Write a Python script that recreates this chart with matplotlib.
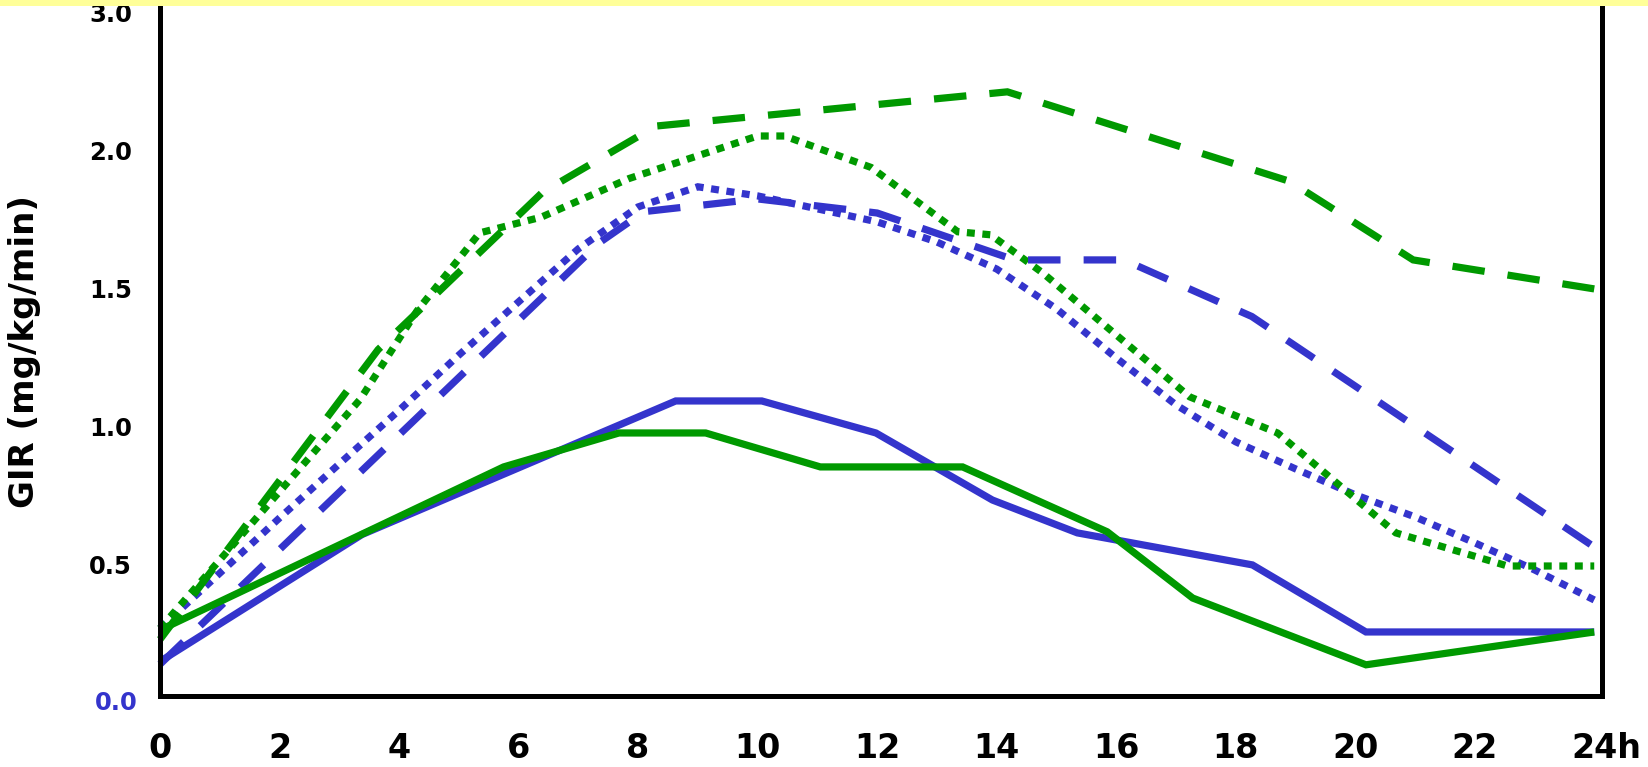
import matplotlib
matplotlib.use("Agg")
import matplotlib.pyplot as plt
from matplotlib.patches import Rectangle
import matplotlib.transforms as mtransforms

plt.rcParams['font.family'] = ['DejaVu Sans']

# ---------------- data (hours, GIR mg/kg/min) ----------------
blue_solid_x = [0, 3.38, 8.63, 10.07, 11.98, 13.93, 15.35, 18.28, 20.18, 24]
blue_solid_y = [0.15, 0.61, 1.094, 1.094, 0.978, 0.735, 0.616, 0.50, 0.257, 0.257]

green_solid_x = [0, 5.75, 7.68, 9.13, 11.05, 13.43, 15.85, 17.28, 20.18, 24]
green_solid_y = [0.264, 0.855, 0.978, 0.978, 0.855, 0.855, 0.62, 0.38, 0.138, 0.257]

blue_dashed_x = [0, 7.35, 8.1, 10.0, 12.0, 14.3, 16.13, 18.27, 24]
blue_dashed_y = [0.14, 1.667, 1.78, 1.826, 1.775, 1.605, 1.605, 1.40, 0.565]

green_dashed_x = [0, 3.65, 6.4, 8.3, 14.18, 18.9, 20.97, 24]
green_dashed_y = [0.23, 1.28, 1.85, 2.09, 2.214, 1.89, 1.605, 1.50]

blue_dotted_x = list(range(0, 25))
blue_dotted_y = [0.27, 0.47, 0.67, 0.866, 1.06, 1.26, 1.453, 1.645, 1.797, 1.87,
                 1.837, 1.79, 1.743, 1.67, 1.572, 1.428, 1.25, 1.08, 0.946, 0.848,
                 0.754, 0.674, 0.58, 0.482, 0.373]

green_dotted_x = [0, 3.35, 4.3, 5.35, 6.38, 7.85, 10.0, 10.45, 11.9, 13.35, 13.9,
                  14.77, 17.23, 18.7, 20.68, 22.55, 24]
green_dotted_y = [0.27, 1.10, 1.42, 1.703, 1.76, 1.90, 2.054, 2.054, 1.94, 1.707, 1.696,
                  1.558, 1.109, 0.978, 0.616, 0.496, 0.496]

x_ticks = [0, 2, 4, 6, 8, 10, 12, 14, 16, 18, 20, 22, 24]
x_labels = ['0', '2', '4', '6', '8', '10', '12', '14', '16', '18', '20', '22', '24h']
y_ticks = [0.5, 1.0, 1.5, 2.0, 2.5]
y_labels = ['0.5', '1.0', '1.5', '2.0', '3.0']
y_zero_label = '0.0'
y_title = 'GIR (mg/kg/min)'

BLUE = '#3434CC'
GREEN = '#009900'

W, H = 1648, 767
fig = plt.figure(figsize=(W / 100, H / 100), dpi=100)
fig.patches.append(Rectangle((0, 1 - 6 / H), 1, 6 / H, transform=fig.transFigure,
                             facecolor='#FFFF99', edgecolor='none', zorder=0))

ax = fig.add_axes([160 / W, 1 - 696 / H, (1602 - 160) / W, (696 - 6) / H])
ax.set_xlim(0.1, 24.13)
ax.set_ylim(0.025, 2.525)

lw = 5.2
dash = (4.5, 3.2)
dot = (1.1, 1.05)

def draw(x, y, color, style):
    ln, = ax.plot(x, y, color=color, lw=lw, clip_on=False, solid_capstyle='butt',
                  dash_capstyle='butt', solid_joinstyle='miter', dash_joinstyle='miter')
    if style == 'dash':
        ln.set_dashes(dash)
    elif style == 'dot':
        ln.set_dashes(dot)
    return ln

draw(blue_dotted_x, blue_dotted_y, BLUE, 'dot')
draw(green_dotted_x, green_dotted_y, GREEN, 'dot')
draw(blue_dashed_x, blue_dashed_y, BLUE, 'dash')
draw(green_dashed_x, green_dashed_y, GREEN, 'dash')
draw(blue_solid_x, blue_solid_y, BLUE, 'solid')
draw(green_solid_x, green_solid_y, GREEN, 'solid')

for side in ['left', 'right', 'bottom']:
    ax.spines[side].set_linewidth(3.6)
    ax.spines[side].set_color('black')
ax.spines['top'].set_visible(False)

ax.set_xticks(x_ticks)
ax.set_xticklabels(x_labels, fontsize=24, fontweight='bold')
ax.set_yticks(y_ticks)
ax.set_yticklabels(y_labels, fontsize=17.5, fontweight='bold')
ax.tick_params(axis='x', length=0, pad=26)
ax.tick_params(axis='y', length=0, pad=20)

# shift "24h" so that "24" is centered on its tick
last = ax.get_xticklabels()[-1]
last.set_transform(last.get_transform() + mtransforms.ScaledTranslation(12 / 100, 0, fig.dpi_scale_trans))

ax.text(0.0, 0.0, y_zero_label, color=BLUE, fontsize=17.5, fontweight='bold',
        ha='right', va='center',
        transform=mtransforms.blended_transform_factory(ax.transAxes, ax.transData)
        + mtransforms.ScaledTranslation(-22 / 100, 0, fig.dpi_scale_trans))

fig.text(25 / W, 1 - 352 / H, y_title, rotation=90, ha='center', va='center',
         fontsize=24.5, fontweight='bold')

fig.savefig('out.png', dpi=100)
